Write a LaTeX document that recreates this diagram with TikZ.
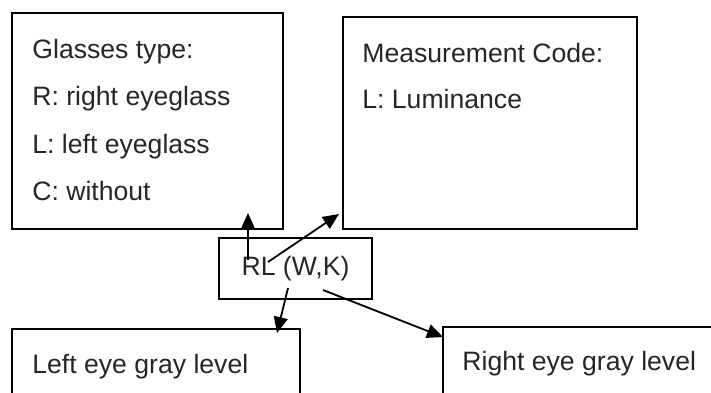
\documentclass[tikz,border=0pt]{standalone}
\usepackage{fontspec}
\setmainfont{Liberation Sans}
\usetikzlibrary{arrows.meta}

\begin{document}
\begin{tikzpicture}[x=0.5pt, y=-0.5pt,
	box/.style={draw=black, line width=1pt, rectangle, anchor=north west, inner sep=0pt},
	lbl/.style={anchor=base west, inner sep=0pt, text=black!85, font=\fontsize{13.3}{16}\selectfont},
	link/.style={line width=0.9pt, -{Triangle[length=8pt, width=7pt]}}]
	\useasboundingbox (0,0) rectangle (711,392);
	\clip (0,0) rectangle (711,392);
	% The two boxes on top
	\node[box, minimum width=135.5pt, minimum height=108pt] (glasses) at (11,12) {};
	\node[box, minimum width=147pt, minimum height=106pt] (measure) at (342,16) {};
	% The code in the middle
	\node[box, anchor=center, minimum width=76.5pt, minimum height=30.5pt, text=black!85, font=\fontsize{13.3}{16}\selectfont] (code) at (295.5,268.5) {RL (W,K)};
	% The two boxes at the bottom, cut by the page
	\node[box, minimum width=144pt, minimum height=50pt] (lefteye) at (11,328) {};
	\node[box, minimum width=159pt, minimum height=50pt] (righteye) at (442,326) {};
	% Labels
	\node[lbl] (g1) at (32,58) {Glasses type:};
	\node[lbl] (g2) at (32,105) {R: right eyeglass};
	\node[lbl] (g3) at (32,153) {L: left eyeglass};
	\node[lbl] (g4) at (32,200) {C: without};
	\node[lbl] (m1) at (362,62) {Measurement Code:};
	\node[lbl] (m2) at (362,108) {L: Luminance};
	\node[lbl] (l1) at (32,373) {Left eye gray level};
	\node[lbl] (r1) at (462,370) {Right eye gray level};
	% Arrows from the code
	\coordinate (s1) at (248,260); \coordinate (e1) at (248,213);
	\coordinate (s2) at (268,262); \coordinate (e2) at (339,214);
	\coordinate (s3) at (288,288); \coordinate (e3) at (277,333);
	\coordinate (s4) at (323,290); \coordinate (e4) at (443,337);
	\draw[link] (s1) -- (e1);
	\draw[link] (s2) -- (e2);
	\draw[link] (s3) -- (e3);
	\draw[link] (s4) -- (e4);
\end{tikzpicture}
\end{document}
